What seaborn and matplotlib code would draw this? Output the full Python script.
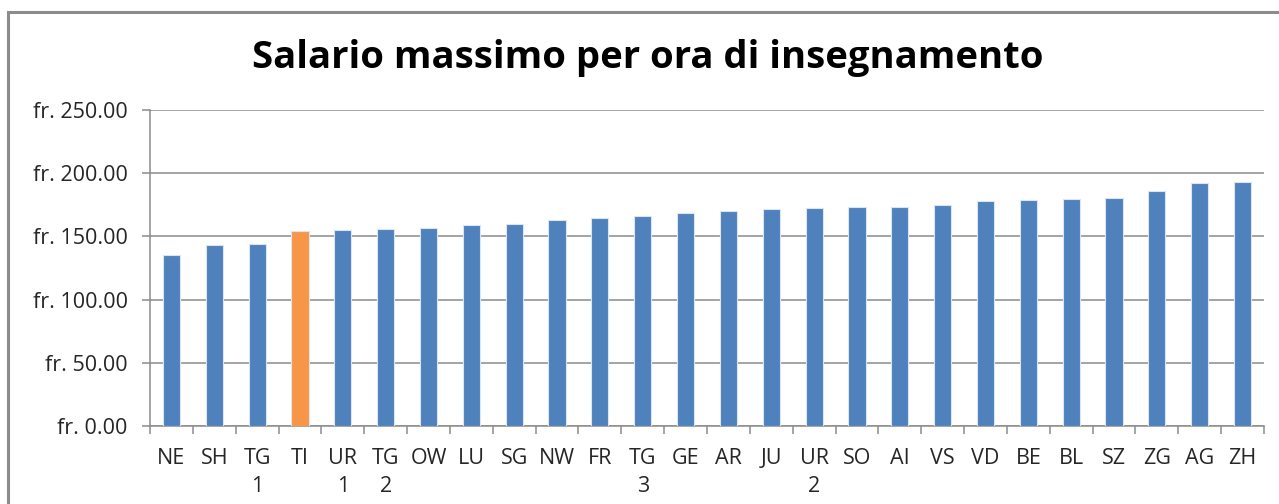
import matplotlib
matplotlib.use("Agg")
import matplotlib.pyplot as plt
import seaborn as sns
import pandas as pd
from matplotlib.patches import Rectangle
from matplotlib.ticker import FuncFormatter, FixedLocator

cantons = ["NE", "SH", "TG\n1", "TI", "UR\n1", "TG\n2", "OW", "LU", "SG", "NW", "FR",
           "TG\n3", "GE", "AR", "JU", "UR\n2", "SO", "AI", "VS", "VD", "BE", "BL",
           "SZ", "ZG", "AG", "ZH"]
salari = [135.0, 143.0, 143.8, 154.4, 155.4, 155.6, 156.4, 158.8, 159.8, 162.7, 164.3,
          165.9, 168.8, 169.8, 171.4, 172.2, 173.3, 173.2, 175.0, 177.9, 178.7, 179.5,
          180.5, 185.8, 192.1, 192.9]
evidenziato = "TI"
yticks = [0, 50, 100, 150, 200, 250]
titolo = "Salario massimo per ora di insegnamento"

df = pd.DataFrame({"cantone": cantons, "salario": salari})
palette = {c: ("#F79646" if c == evidenziato else "#4F81BD") for c in cantons}

sns.set_style("white")
plt.rcParams["font.family"] = ["Open Sans", "DejaVu Sans"]

fig = plt.figure(figsize=(12.79, 5.04), dpi=100)
ax = fig.add_axes([150 / 1279, 1 - 426 / 504, (1264 - 150) / 1279, 316 / 504])

sns.barplot(data=df, x="cantone", y="salario", hue="cantone", palette=palette,
            legend=False, width=0.4, edgecolor="#dbe5f1", linewidth=0.8,
            saturation=1, ax=ax, zorder=3)

n = len(cantons)
ax.set_xlim(-0.5, n - 0.5)
ax.set_ylim(0, 250)
ax.set_yticks(yticks)
ax.yaxis.set_major_formatter(FuncFormatter(lambda v, p: f"fr. {v:.2f}"))
ax.grid(axis="y", color="#8c8c8c", linewidth=1.1, zorder=0)
ax.set_axisbelow(True)
ax.set_xlabel("")
ax.set_ylabel("")

for s in ["top", "right"]:
    ax.spines[s].set_visible(False)
for s in ["left", "bottom"]:
    ax.spines[s].set_color("#8c8c8c")
    ax.spines[s].set_linewidth(1.1)

ax.xaxis.set_minor_locator(FixedLocator([i - 0.5 for i in range(n + 1)]))
ax.tick_params(axis="x", which="major", length=0, pad=16, labelsize=15.5,
               labelcolor="#262626")
ax.tick_params(axis="x", which="minor", length=6, width=1.1, color="#8c8c8c",
               direction="out", bottom=True)
ax.tick_params(axis="y", which="major", length=6, width=1.1, color="#8c8c8c",
               direction="out", left=True, pad=10, labelsize=15.5,
               labelcolor="#262626")
for lab in ax.get_xticklabels():
    lab.set_linespacing(1.45)
    lab.set_verticalalignment("top")

fig.text(648 / 1279, 1 - 58 / 504, titolo, ha="center", va="center",
         fontsize=27.5, fontweight="bold", color="black")

border = Rectangle((8 / 1279, -0.05), 1.2, 1 - 12 / 504 + 0.05,
                   transform=fig.transFigure, fill=False, edgecolor="#8c8c8c",
                   linewidth=2.2, clip_on=False)
fig.patches.append(border)

fig.savefig("out.png", dpi=100)
